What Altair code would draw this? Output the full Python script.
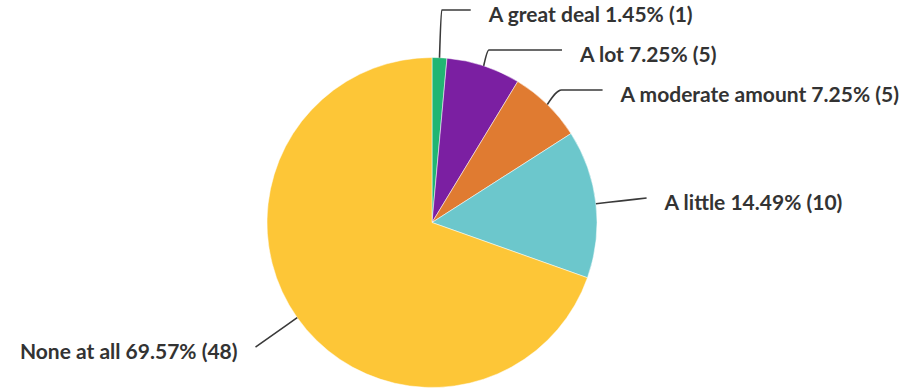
import altair as alt
import numpy as np
import pandas as pd

# ---- data ----
categories = ["A great deal", "A lot", "A moderate amount", "A little", "None at all"]
counts = [1, 5, 5, 10, 48]
percents = ["1.45%", "7.25%", "7.25%", "14.49%", "69.57%"]
colors = ["#22B573", "#7B1FA2", "#E07B31", "#6CC7CC", "#FDC637"]

# ---- layout ----
W, H = 906, 390
CX, CY, R = 432, 222.5, 165
LABEL_R = 216      # radius on which labels sit
SPACING = 40       # minimal vertical distance between labels
TOP, BOTTOM = 10, 379
GAP = 18           # connector end to text

total = sum(counts)
cum = np.cumsum([0] + counts)
mid = (cum[:-1] + cum[1:]) / 2 / total * 2 * np.pi
sin, cos = np.sin(mid), np.cos(mid)
side = np.where(sin >= 0, 1, -1)
nat_y = CY - LABEL_R * cos

label_y = nat_y.copy()
for s in (1, -1):
    idx = [i for i in range(len(categories)) if side[i] == s]
    idx.sort(key=lambda i: nat_y[i])
    prev = None
    for i in idx:
        y = max(nat_y[i], TOP)
        if prev is not None:
            y = max(y, prev + SPACING)
        label_y[i] = min(y, BOTTOM)
        prev = label_y[i]

end_x = CX + side * np.sqrt(np.maximum(LABEL_R ** 2 - (label_y - CY) ** 2, 0))

line_rows, text_rows = [], []
for i, cat in enumerate(categories):
    ex, ey = CX + R * sin[i], CY - R * cos[i]
    tx, ty = end_x[i], label_y[i]
    cx_, cy_ = (ex + tx) / 2, (ey + ty) / 2
    if abs(cos[i]) > 1e-6:
        t = (ty - ey) / (-cos[i])
        px, py = ex + t * sin[i], ey + t * (-cos[i])
        lo, hi = min(ex, tx), max(ex, tx)
        if t > 0 and lo <= px <= hi and abs(px - tx) > 4:
            cx_, cy_ = px, py
    for k, (x, y) in enumerate([(ex, ey), (cx_, cy_), (tx, ty)]):
        line_rows.append({"label": cat, "pt": k, "x": x, "y": y})
    text_rows.append({
        "label": cat,
        "text": f"{cat} {percents[i]} ({counts[i]})",
        "x": tx + side[i] * GAP,
        "y": ty,
        "side": "right" if side[i] > 0 else "left",
    })

pie_df = pd.DataFrame({"label": categories, "count": counts, "idx": range(len(categories))})
line_df = pd.DataFrame(line_rows)
text_df = pd.DataFrame(text_rows)

xs = alt.Scale(domain=[0, W], range=[0, W])
ys = alt.Scale(domain=[0, H], range=[0, H])

pie = alt.Chart(pie_df).mark_arc(radius=R, stroke="white", strokeWidth=0.5).encode(
    theta=alt.Theta("count:Q", stack=True),
    color=alt.Color("label:N", scale=alt.Scale(domain=categories, range=colors), legend=None),
    order=alt.Order("idx:Q"),
    x=alt.value(CX),
    y=alt.value(CY),
)

lines = alt.Chart(line_df).mark_line(interpolate="monotone", color="#3a3a3a", strokeWidth=1.6).encode(
    x=alt.X("x:Q", scale=xs, axis=None),
    y=alt.Y("y:Q", scale=ys, axis=None),
    detail="label:N",
    order="pt:Q",
)

text_style = dict(font="Lato", fontSize=21, fontWeight="bold", color="#333333", baseline="middle", dy=6)
text_right = alt.Chart(text_df).transform_filter(alt.datum.side == "right").mark_text(
    align="left", **text_style
).encode(x=alt.X("x:Q", scale=xs, axis=None), y=alt.Y("y:Q", scale=ys, axis=None), text="text:N")
text_left = alt.Chart(text_df).transform_filter(alt.datum.side == "left").mark_text(
    align="right", **text_style
).encode(x=alt.X("x:Q", scale=xs, axis=None), y=alt.Y("y:Q", scale=ys, axis=None), text="text:N")

chart = alt.layer(pie, lines, text_right, text_left).properties(
    width=W, height=H, padding=0, autosize=alt.AutoSizeParams(type="none"),
    background="white",
).configure_view(stroke=None)

chart.save("out.html", embed_options={"renderer": "svg", "actions": False})
